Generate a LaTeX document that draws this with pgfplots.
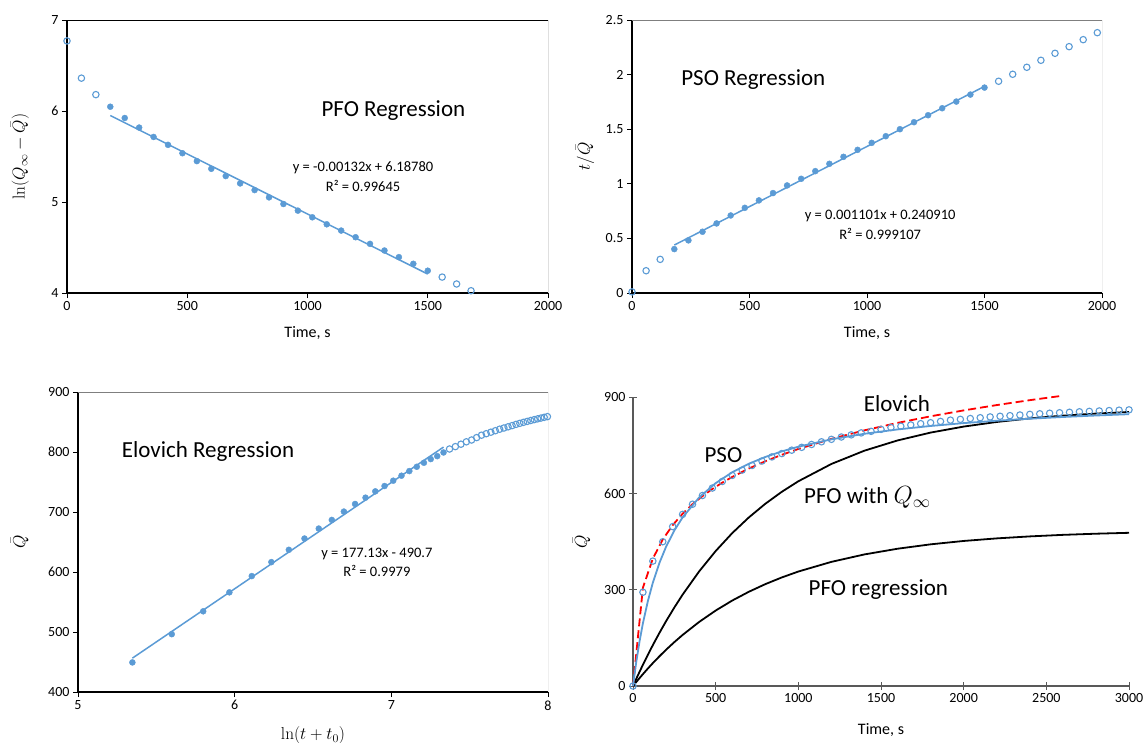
\documentclass[border=0pt]{standalone}
\usepackage[no-math]{fontspec}
\setmainfont{Carlito}
\usepackage{pgfplots}
\pgfplotsset{compat=1.18}

\definecolor{xlblue}{HTML}{5B9BD5}
\definecolor{framegray}{HTML}{7F7F7F}
\definecolor{axgray}{HTML}{595959}

\pgfplotsset{
  kin/.style={
    scale only axis,
    tick align=outside,
    major tick length=5pt,
    tick style={black, line width=0.8pt},
    tick label style={font=\fontsize{14}{16}\selectfont},
    /pgf/number format/assume math mode=true,
    /pgf/number format/set thousands separator={},
    scaled ticks=false,
    axis x line*=bottom, axis y line*=left,
    axis line style={black, line width=1.3pt},
    xlabel style={font=\fontsize{16}{18}\selectfont, anchor=center},
    ylabel style={font=\fontsize{18}{20}\selectfont, anchor=center},
  },
  fillpt/.style={only marks, mark=*, mark size=3pt, color=xlblue},
  openpt/.style={only marks, mark=o, mark size=3.2pt, mark options={line width=1.1pt}, color=xlblue},
  fitline/.style={xlblue, line width=1.5pt, no marks},
}

\begin{document}
\begin{tikzpicture}

% ---- PFO regression (top left)
\begin{axis}[kin,
  at={(67pt,-293pt)}, anchor=south west,
  width=481pt, height=273pt,
  xmin=0, xmax=2000, ymin=4, ymax=7,
  xtick={0,500,1000,1500,2000}, ytick={4,5,6,7},
  xlabel={Time, s},
  xlabel style={at={(axis description cs:0.5,-0.147)}},
  ylabel={$\ln(Q_\infty-\bar{Q})$},
  ylabel style={at={(axis description cs:-0.098,0.5)}},
]
\addplot[openpt] coordinates {(0,6.77)(60,6.361)(120,6.18)(1560,4.175)(1620,4.099)(1680,4.025)};
\addplot[fillpt] coordinates {
  (180,6.047)(240,5.923)(300,5.818)(360,5.715)(420,5.628)(480,5.536)
  (540,5.449)(600,5.365)(660,5.285)(720,5.204)(780,5.131)(840,5.051)
  (900,4.978)(960,4.905)(1020,4.832)(1080,4.755)(1140,4.686)(1200,4.613)
  (1260,4.540)(1320,4.467)(1380,4.394)(1440,4.321)(1500,4.245)
};
\addplot[fitline] coordinates {(180,5.950)(1500,4.208)};
\draw[black, line width=0.8pt] (rel axis cs:0,1) -- (rel axis cs:1,1) -- (rel axis cs:1,0);
\node[font=\fontsize{23}{26}\selectfont] at (axis cs:1357,6.0) {PFO Regression};
\node[font=\fontsize{14.5}{16}\selectfont] at (axis cs:1231,5.376) {y = -0.00132x + 6.18780};
\node[font=\fontsize{14.5}{16}\selectfont] at (axis cs:1231,5.18) {R² = 0.99645};
\end{axis}

% ---- PSO regression (top right)
\begin{axis}[kin,
  at={(632pt,-293pt)}, anchor=south west,
  width=470pt, height=273pt,
  xmin=0, xmax=2000, ymin=0, ymax=2.5,
  xtick={0,500,1000,1500,2000}, ytick={0,0.5,1,1.5,2,2.5},
  xlabel={Time, s},
  xlabel style={at={(axis description cs:0.5,-0.147)}},
  ylabel={$t/\bar{Q}$},
  ylabel style={at={(axis description cs:-0.100,0.5)}},
]
\addplot[openpt] coordinates {(0,0.01)(60,0.204)(120,0.308)
  (1560,1.939)(1620,2.003)(1680,2.067)(1740,2.131)(1800,2.195)(1860,2.256)(1920,2.320)(1980,2.384)};
\addplot[fillpt] coordinates {
  (180,0.402)(240,0.482)(300,0.561)(360,0.637)(420,0.710)(480,0.780)
  (540,0.848)(600,0.915)(660,0.985)(720,1.046)(780,1.116)(840,1.183)
  (900,1.247)(960,1.311)(1020,1.375)(1080,1.436)(1140,1.500)(1200,1.564)
  (1260,1.628)(1320,1.692)(1380,1.753)(1440,1.817)(1500,1.881)
};
\addplot[fitline] coordinates {(180,0.4391)(1500,1.8924)};
\draw[framegray, line width=0.8pt] (rel axis cs:0,1) -- (rel axis cs:1,1) -- (rel axis cs:1,0);
\node[font=\fontsize{23}{26}\selectfont] at (axis cs:516,1.957) {PSO Regression};
\node[font=\fontsize{14.5}{16}\selectfont] at (axis cs:1056,0.701) {y = 0.001101x + 0.240910};
\node[font=\fontsize{14.5}{16}\selectfont] at (axis cs:1056,0.540) {R² = 0.999107};
\end{axis}

% ---- Elovich regression (bottom left)
\begin{axis}[kin,
  at={(78pt,-692pt)}, anchor=south west,
  width=470pt, height=300pt,
  xmin=5, xmax=8, ymin=400, ymax=900,
  xtick={5,6,7,8}, ytick={400,500,600,700,800,900},
  xlabel={$\ln(t+t_0)$},
  xlabel style={at={(axis description cs:0.5,-0.145)}, font=\fontsize{18}{20}\selectfont},
  ylabel={$\bar{Q}$},
  ylabel style={at={(axis description cs:-0.124,0.5)}},
]
\addplot[openpt] coordinates {
  (7.3715,805)(7.4086,809)(7.4443,813)(7.4788,817)(7.5121,820)(7.5444,824)
  (7.5756,828)(7.6059,830.5)(7.6353,833)(7.6639,835.5)(7.6917,838)(7.7187,840)
  (7.7450,842)(7.7707,844)(7.7957,846)(7.8201,847.8)(7.8439,849.5)(7.8671,851)
  (7.8899,852.5)(7.9121,854)(7.9338,855.3)(7.9551,856.6)(7.9759,857.8)(7.9963,859)
};
\addplot[fillpt] coordinates {
  (5.3471,449.3)(5.5984,496.4)(5.7991,534.5)(5.9662,566.1)(6.1093,593.2)(6.2344,616.5)
  (6.3457,637.0)(6.4457,655.8)(6.5367,672.4)(6.6201,686.8)(6.6971,700.7)(6.7685,713.4)
  (6.8352,723.9)(6.8977,734.4)(6.9566,743.3)(7.0121,752.2)(7.0648,760.5)(7.1148,768.2)
  (7.1624,775.4)(7.2079,782.1)(7.2514,788.2)(7.2930,793.1)(7.3331,799.2)
};
\addplot[fitline] coordinates {(5.3471,456.4)(7.3331,808.2)};
\draw[framegray, line width=0.8pt] (rel axis cs:0,1) -- (rel axis cs:1,1) -- (rel axis cs:1,0);
\node[font=\fontsize{23}{26}\selectfont] at (axis cs:5.83,801) {Elovich Regression};
\node[font=\fontsize{14.5}{16}\selectfont] at (axis cs:6.908,630.9) {y = 177.13x - 490.7};
\node[font=\fontsize{14.5}{16}\selectfont] at (axis cs:6.908,601.6) {R² = 0.9979};
\end{axis}

% ---- model comparison (bottom right)
\begin{axis}[kin,
  at={(633pt,-686pt)}, anchor=south west,
  width=496pt, height=289pt,
  clip=false,
  xmin=0, xmax=3000, ymin=0, ymax=900,
  xtick={0,500,1000,1500,2000,2500,3000}, ytick={0,300,600,900},
  tick align=center, major tick length=8pt,
  tick style={axgray, line width=1pt},
  axis line style={axgray, line width=1.2pt},
  xlabel={Time, s},
  xlabel style={at={(axis description cs:0.5,-0.152)}},
  ylabel={$\bar{Q}$},
  ylabel style={at={(axis description cs:-0.104,0.5)}},
]
\addplot[black, line width=1.8pt, no marks] coordinates {
  (0,0)(20,12.7)(40,25.0)(60,37.0)(90,54.5)(120,71.3)(160,92.6)(200,112.9)
  (250,136.7)(300,159.0)(400,199.5)(500,235.0)(600,266.1)(700,293.3)(800,317.2)
  (900,338.1)(1000,356.5)(1200,386.6)(1400,409.8)(1600,427.5)(1800,441.2)
  (2000,451.7)(2200,459.7)(2400,465.9)(2600,470.7)(2800,474.3)(3000,477.1)
};
\addplot[black, line width=1.8pt, no marks] coordinates {
  (0,0)(20,22.7)(40,44.7)(60,66.2)(90,97.4)(120,127.4)(160,165.6)(200,201.9)
  (250,244.5)(300,284.5)(400,356.9)(500,420.3)(600,476.1)(700,524.7)(800,567.4)
  (900,604.8)(1000,637.6)(1200,691.5)(1400,732.9)(1600,764.7)(1800,789.2)
  (2000,807.9)(2200,822.3)(2400,833.4)(2600,841.9)(2800,848.4)(3000,853.4)
};
\addplot[red, line width=1.8pt, dash pattern=on 8pt off 4pt, no marks] coordinates {
  (0,0)(60,306.4)(120,396.8)(180,456.4)(240,500.9)(300,536.5)(360,566.1)
  (420,591.4)(480,613.6)(540,633.3)(600,651.0)(700,677.1)(800,699.9)(900,720.0)
  (1000,738.1)(1200,769.6)(1400,796.2)(1600,819.4)(1800,839.9)(2000,858.3)
  (2200,874.9)(2400,890.2)(2600,904.1)
};
\addplot[xlblue, line width=1.8pt, no marks] coordinates {
  (0,0)(20,76.1)(40,140.4)(60,195.5)(90,264.7)(120,321.7)(160,383.6)(200,433.7)
  (250,484.3)(300,525.2)(400,587.1)(500,631.8)(600,665.6)(700,692.0)(800,713.2)
  (900,730.6)(1000,745.2)(1200,768.2)(1400,785.5)(1600,799.0)(1800,809.8)
  (2000,818.7)(2200,826.1)(2400,832.4)(2600,837.8)(2800,842.4)(3000,846.5)
};
\addplot[openpt] coordinates {
  (0,0)(60,292)(120,389)
  (180,449.3)(240,496.4)(300,534.5)(360,566.1)(420,593.2)(480,616.5)
  (540,637.0)(600,655.8)(660,672.4)(720,686.8)(780,700.7)(840,713.4)
  (900,723.9)(960,734.4)(1020,743.3)(1080,752.2)(1140,760.5)(1200,768.2)
  (1260,775.4)(1320,782.1)(1380,788.2)(1440,793.1)(1500,799.2)
  (1560,805)(1620,809)(1680,813)(1740,817)(1800,820)(1860,824)
  (1920,828)(1980,830.5)(2040,833)(2100,835.5)(2160,838)(2220,840)
  (2280,842)(2340,844)(2400,846)(2460,847.8)(2520,849.5)(2580,851)
  (2640,852.5)(2700,854)(2760,855.3)(2820,856.6)(2880,857.8)(2940,859)(3000,860)
};
\node[font=\fontsize{23}{26}\selectfont] at (axis cs:1596,880) {Elovich};
\node[font=\fontsize{23}{26}\selectfont] at (axis cs:547,720) {PSO};
\node[font=\fontsize{23}{26}\selectfont] at (axis cs:1418,587) {PFO with $Q_\infty$};
\node[font=\fontsize{23}{26}\selectfont] at (axis cs:1484,299) {PFO regression};
\end{axis}

\pgfresetboundingbox
\useasboundingbox (0pt,0pt) rectangle (1145pt,-743pt);
\end{tikzpicture}
\end{document}
